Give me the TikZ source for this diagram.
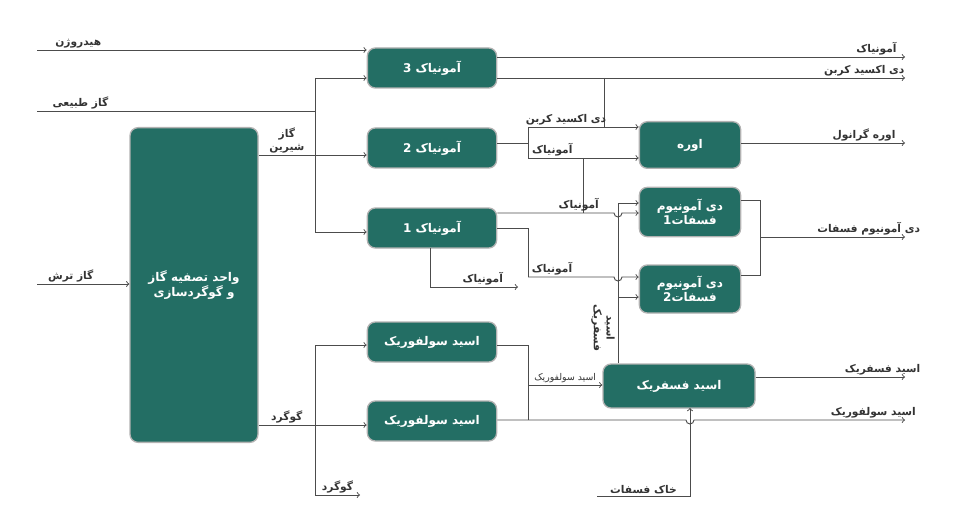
\documentclass[tikz,border=0pt]{standalone}
\usepackage{fontspec}
\newfontfamily\fafont[Script=Arabic]{DejaVu Sans}
\usetikzlibrary{positioning}
\TeXXeTstate=1
\newcommand{\fa}[1]{\beginR#1\endR}
\definecolor{teal1}{RGB}{35,110,100}
\tikzset{
  unit/.style={draw=gray!60,line width=1pt,fill=teal1,text=white,font=\fafont\bfseries\small,
    rounded corners=6pt,align=center,inner sep=0pt},
  flow/.style={draw=black!70,line width=0.7pt,-{>[scale=1.2]}},
  pipe/.style={draw=black!70,line width=0.7pt},
  lbl/.style={font=\fafont\bfseries\footnotesize,text=black!80,inner sep=1pt}
}
\begin{document}
\begin{tikzpicture}[x=0.75pt,y=-0.75pt]
	\useasboundingbox (0,0) rectangle (958,517);
	% units
	\node[unit,minimum width=96pt,minimum height=236pt] (gas) at (194,285) {\fa{واحد تصفیه گاز}\\\fa{و گوگردسازی}};
	\node[unit,minimum width=97pt,minimum height=30pt] (a3) at (432,68) {\fa{آمونیاک 3}};
	\node[unit,minimum width=97pt,minimum height=30pt] (a2) at (432,148) {\fa{آمونیاک 2}};
	\node[unit,minimum width=97pt,minimum height=30pt] (a1) at (432,228) {\fa{آمونیاک 1}};
	\node[unit,minimum width=76pt,minimum height=35pt] (urea) at (690,145) {\fa{اوره}};
	\node[unit,minimum width=76pt,minimum height=37pt] (dap1) at (690,212) {\fa{دی آمونیوم}\\\fa{فسفات1}};
	\node[unit,minimum width=76pt,minimum height=36pt] (dap2) at (690,289) {\fa{دی آمونیوم}\\\fa{فسفات2}};
	\node[unit,minimum width=97pt,minimum height=30pt] (sa1) at (432,342) {\fa{اسید سولفوریک}};
	\node[unit,minimum width=97pt,minimum height=30pt] (sa2) at (432,421) {\fa{اسید سولفوریک}};
	\node[unit,minimum width=114pt,minimum height=33pt] (pa) at (679,386) {\fa{اسید فسفریک}};
	% inputs
	\coordinate (hin) at (37,50);
	\coordinate (ngin) at (37,111);
	\coordinate (sgin) at (37,284);
	\draw[flow] (hin) -- (hin -| a3.west) node[lbl,pos=0.05,above right] {\fa{هیدروژن}};
	\draw[pipe] (ngin) -- (315,111) node[lbl,pos=0.05,above right] {\fa{گاز طبیعی}};
	\draw[flow] (sgin) -- (sgin -| gas.west) node[lbl,pos=0.1,above right] {\fa{گاز ترش}};
	% sweet gas
	\draw[pipe] (gas.east |- 0,155) -- (315,155) node[lbl,midway,above,align=center] {\fa{گاز}\\\fa{شیرین}};
	\draw[flow] (315,78) -- (a3.west |- 0,78);
	\draw[flow] (315,78) |- (a2.west |- 0,155);
	\draw[flow] (315,155) |- (a1.west |- 0,232);
	% sulfur
	\draw[pipe] (gas.east |- 0,425) -- (315,425) node[lbl,midway,above] {\fa{گوگرد}};
	\draw[flow] (315,425) |- (sa1.west |- 0,345);
	\draw[flow] (315,425) -- (sa2.west |- 0,425);
	\draw[flow] (315,425) |- (360,495) node[lbl,pos=0.75,above] {\fa{گوگرد}};
	% ammonia 3
	\draw[flow] (a3.east |- 0,57) -- (905,57) node[lbl,pos=0.93,above] {\fa{آمونیاک}};
	\draw[flow] (a3.east |- 0,78) -- (905,78) node[lbl,pos=0.9,above] {\fa{دی اکسید کربن}};
	\draw[pipe] (604,78) |- (528,127) node[lbl,pos=0.75,above] {\fa{دی اکسید کربن}};
	\draw[flow] (604,127) -- (urea.west |- 0,127);
	% ammonia 2
	\draw[pipe] (a2.east |- 0,143) -- (528,143);
	\draw[pipe] (528,127) -- (528,158);
	\draw[flow] (528,158) -- (urea.west |- 0,158) node[lbl,pos=0.22,above] {\fa{آمونیاک}};
	\draw[pipe] (583,158) -- (583,213);
	% ammonia 1
	\draw[flow] (a1.east |- 0,213) -- (614,213) arc (180:0:4) -- (dap1.west |- 0,213) node[lbl,pos=0,above left,xshift=-16pt] {\fa{آمونیاک}};
	\draw[pipe] (a1.east |- 0,228) -| (528,277);
	\draw[flow] (528,277) -- (614,277) arc (180:0:4) -- (dap2.west |- 0,277) node[lbl,pos=0,above left,xshift=-36pt] {\fa{آمونیاک}};
	\draw[flow] (430,248) |- (518,287) node[lbl,pos=0.8,above] {\fa{آمونیاک}};
	% phosphoric acid to dap
	\draw[pipe] (pa.north -| 618,0) -- (618,203);
	\draw[flow] (618,203) -- (dap1.west |- 0,203);
	\draw[flow] (618,297) -- (dap2.west |- 0,297);
	\node[lbl,rotate=-90,align=center] (palbl) at (603,328) {\fa{اسید}\\\fa{فسفریک}};
	% dap outputs
	\draw[pipe] (dap1.east |- 0,200) -| (760,275) -- (dap2.east |- 0,275);
	\draw[flow] (760,237) -- (905,237) node[lbl,pos=0.75,above] {\fa{دی آمونیوم فسفات}};
	\draw[flow] (urea.east |- 0,143) -- (905,143) node[lbl,pos=0.75,above] {\fa{اوره گرانول}};
	% sulfuric acid
	\draw[pipe] (sa1.east |- 0,345) -| (528,420);
	\draw[flow] (528,385) -- (pa.west |- 0,385) node[lbl,midway,above,font=\fafont\scriptsize] {\fa{اسید سولفوریک}};
	\draw[flow] (sa2.east |- 0,420) -- (686,420) arc (180:0:4) -- (905,420) node[lbl,pos=0.85,above] {\fa{اسید سولفوریک}};
	\draw[flow] (pa.east |- 0,377) -- (905,377) node[lbl,pos=0.85,above] {\fa{اسید فسفریک}};
	% phosphate rock
	\draw[flow] (597,496) -| (690,408) node[lbl,pos=0.25,above] {\fa{خاک فسفات}};
\end{tikzpicture}
\end{document}
